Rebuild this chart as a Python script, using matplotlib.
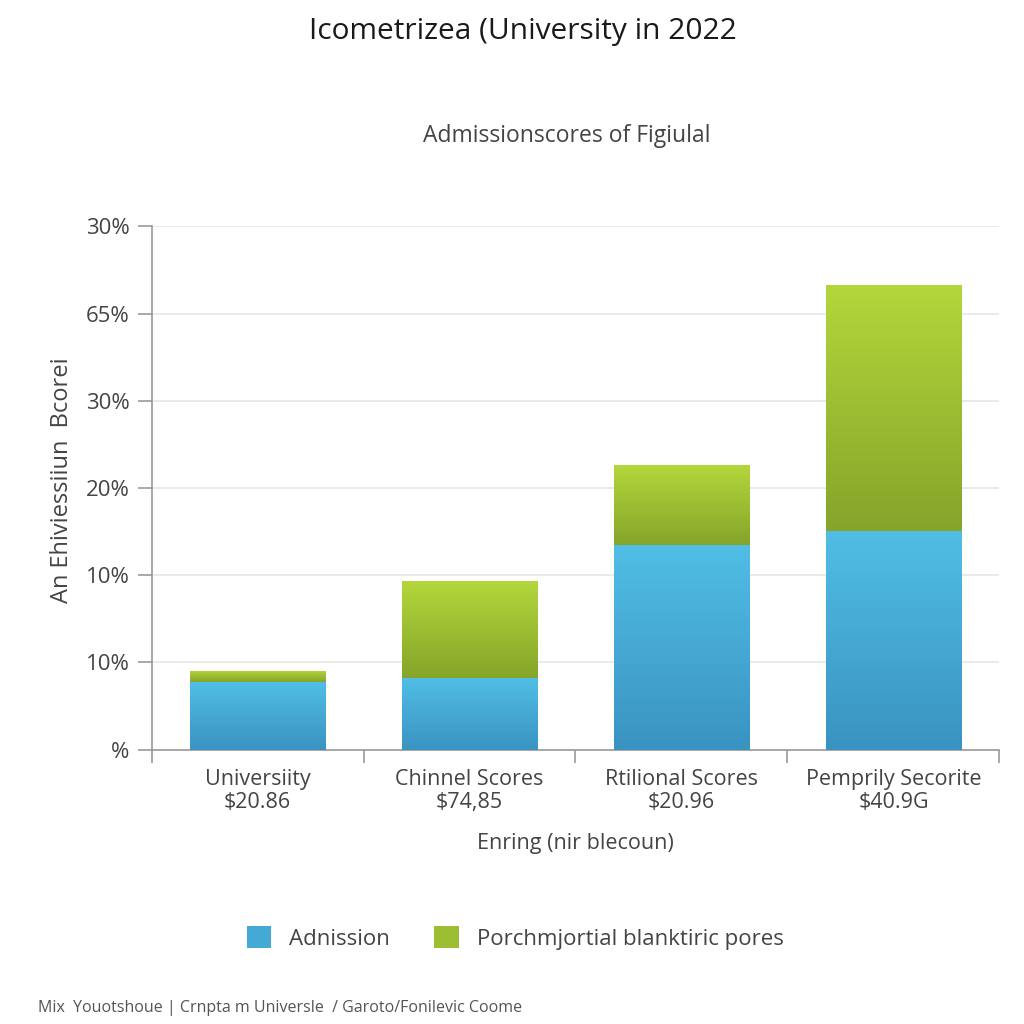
import numpy as np
import matplotlib.pyplot as plt
from matplotlib.colors import LinearSegmentedColormap

plt.rcParams['font.family'] = ['Open Sans', 'DejaVu Sans']

# ==========================
# DATA
# ==========================
categories = ["Universiity\n$20.86", "Chinnel Scores\n$74,85",
              "Rtilional Scores\n$20.96", "Pemprily Secorite\n$40.9G"]
admission = [0.77, 0.82, 2.35, 2.51]
extra = [0.13, 1.11, 0.91, 2.82]
ytick_labels = ["%", "10%", "10%", "20%", "30%", "65%", "30%"]

# ==========================
# PLOT
# ==========================
fig = plt.figure(figsize=(10.24, 10.24), dpi=100)
ax = fig.add_axes([0.148, 0.268, 0.828, 0.511])

x = np.arange(len(categories))
width = 0.64
blue_cm = LinearSegmentedColormap.from_list("b", ["#3a93c1", "#50bee5"])
green_cm = LinearSegmentedColormap.from_list("g", ["#86a42a", "#b3d73b"])

bars_a = ax.bar(x, admission, width, color="#45a9d5", label="Adnission", zorder=2)
bars_b = ax.bar(x, extra, width, bottom=admission, color="#9dbe33",
                label="Porchmjortial blanktiric pores", zorder=2)

# gradient fill clipped to each bar
grad = np.linspace(0, 1, 256).reshape(-1, 1)
for bars, cm in ((bars_a, blue_cm), (bars_b, green_cm)):
    for b in bars:
        x0, y0 = b.get_x(), b.get_y()
        x1, y1 = x0 + b.get_width(), y0 + b.get_height()
        im = ax.imshow(grad, cmap=cm, origin="lower", aspect="auto",
                       extent=[x0, x1, y0, y1], zorder=3)
        im.set_clip_path(b)

ax.set_xlim(-0.5, 3.5)
ax.set_ylim(0, 6)
ax.set_yticks(range(len(ytick_labels)))
ax.set_yticklabels(ytick_labels, fontsize=16, color="#444444")
ax.set_xticks(x)
ax.set_xticklabels(categories, fontsize=15.5, color="#444444", linespacing=1.15)
ax.tick_params(axis="x", length=0, pad=14)
ax.set_xticks(np.arange(-0.5, 4.0, 1.0), minor=True)
ax.tick_params(axis="x", which="minor", length=9, color="#999999", width=1.2)
ax.tick_params(axis="y", length=10, color="#999999", width=1.2, pad=6)

ax.grid(axis="y", color="#e6e6e6", linewidth=1.2, zorder=0)
ax.set_axisbelow(True)
for s in ("top", "right"):
    ax.spines[s].set_visible(False)
for s in ("left", "bottom"):
    ax.spines[s].set_color("#999999")
    ax.spines[s].set_linewidth(1.2)

ax.set_xlabel("Enring (nir blecoun)", fontsize=15.5, color="#444444", labelpad=14)
fig.text(0.061, 0.531, "An Ehiviessiiun  Bcorei", rotation=90, fontsize=17,
         color="#444444", ha="center", va="center")

fig.text(0.511, 0.969, "Icometrizea (University in 2022", fontsize=21.5,
         color="#1a1a1a", ha="center", va="center")
fig.text(0.553, 0.867, "Admissionscores of Figiulal", fontsize=16.5,
         color="#444444", ha="center", va="center")

fig.legend(loc="center", bbox_to_anchor=(0.503, 0.084), ncol=2, frameon=False,
           fontsize=16, handlelength=1.1, handleheight=1.1, columnspacing=2.0,
           labelcolor="#444444")

fig.text(0.037, 0.008, "Mix  Youotshoue | Crnpta m Universle  / Garoto/Fonilevic Coome",
         fontsize=11.5, color="#555555", ha="left", va="bottom")

fig.savefig("out.png", dpi=100, facecolor="white")
